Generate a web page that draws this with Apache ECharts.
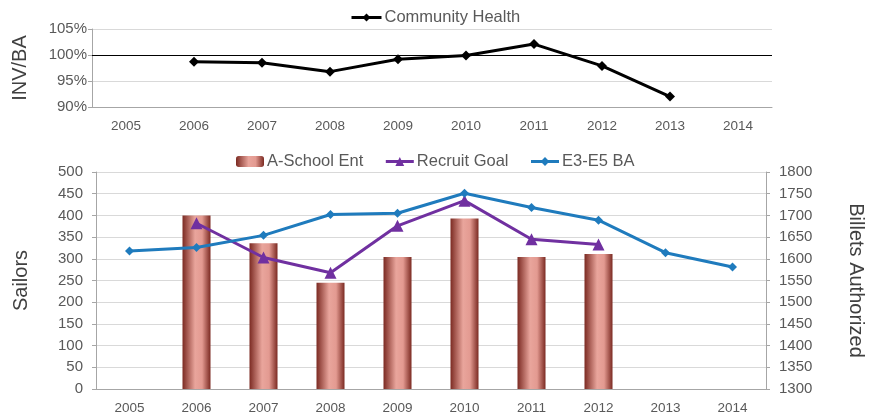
<!DOCTYPE html>
<html lang="en">
<head>
<meta charset="UTF-8" />
<title>Community Health</title>
<script type="text/javascript" src="https://cdn.jsdelivr.net/npm/echarts@6/dist/echarts.min.js"></script>
<style>
    html, body { margin: 0; padding: 0; background: #fff; }
    #main { width: 874px; height: 419px; }
</style>
</head>
<body>
<div id="main"></div>
<script type="text/javascript">
    // data
    var years = ['2005', '2006', '2007', '2008', '2009', '2010', '2011', '2012', '2013', '2014'];
    var healthPct = [null, 98.7, 98.5, 96.8, 99.2, 99.9, 102.1, 97.9, 92.0, null];
    var aSchoolEnt = [null, 400, 336, 245, 304, 393, 304, 311, null, null];
    var recruitGoal = [null, 382, 303, 268, 376, 434, 345, 333, null, null];
    var e3e5BA = [1618, 1626, 1654, 1702, 1705, 1751, 1718, 1689, 1614, 1581];

    var font = 'Liberation Sans, Arial, sans-serif';
    var gray = '#595959';
    var gridGray = '#d9d9d9';

    var myChart = echarts.init(document.getElementById('main'));

    var barColor = new echarts.graphic.LinearGradient(0, 0, 1, 0, [
        { offset: 0, color: '#7b2a22' },
        { offset: 0.45, color: '#e9a59c' },
        { offset: 0.7, color: '#e39a91' },
        { offset: 1, color: '#7b2a22' }
    ]);

    var xCommon = {
        type: 'category',
        data: years,
        axisLine: { lineStyle: { color: '#a6a6a6' } },
        axisTick: { alignWithLabel: false, length: 5, lineStyle: { color: '#a6a6a6' } },
        axisLabel: { color: gray, fontSize: 13.5, fontFamily: font, margin: 12 }
    };

    var legendText = { color: gray, fontSize: 16.5, fontFamily: font, padding: [0, 0, 0, -2] };

    var options = {
        animation: false,
        textStyle: { fontFamily: font },
        legend: [{
            data: ['Community Health'],
            left: 345, top: 4,
            itemWidth: 30, itemHeight: 10, itemGap: 20,
            lineStyle: { width: 3 },
            textStyle: legendText
        }, {
            data: ['A-School Ent', 'Recruit Goal', 'E3-E5 BA'],
            left: 231, top: 148,
            itemWidth: 28, itemHeight: 11, itemGap: 21,
            lineStyle: { width: 3 },
            textStyle: legendText
        }],
        grid: [
            { left: 92, right: 102, top: 29, height: 78 },
            { left: 96, right: 100, top: 172, height: 217 }
        ],
        xAxis: [
            Object.assign({ gridIndex: 0 }, xCommon),
            Object.assign({ gridIndex: 1 }, xCommon)
        ],
        yAxis: [{
            gridIndex: 0,
            type: 'value',
            min: 90, max: 105, interval: 5,
            name: 'INV/BA',
            nameLocation: 'middle', nameGap: 62,
            nameTextStyle: { color: '#404040', fontSize: 20, fontFamily: font },
            axisLine: { show: true, lineStyle: { color: '#a6a6a6' } },
            axisTick: { show: true, length: 4, lineStyle: { color: '#a6a6a6' } },
            axisLabel: { color: gray, fontSize: 15, fontFamily: font, margin: 5, formatter: '{value}%' },
            splitLine: { lineStyle: { color: gridGray } }
        }, {
            gridIndex: 1,
            type: 'value',
            min: 0, max: 500, interval: 50,
            name: 'Sailors',
            nameLocation: 'middle', nameGap: 65,
            nameTextStyle: { color: '#404040', fontSize: 20, fontFamily: font },
            axisLine: { show: true, lineStyle: { color: '#a6a6a6' } },
            axisTick: { show: true, length: 4, lineStyle: { color: '#a6a6a6' } },
            axisLabel: { color: gray, fontSize: 15, fontFamily: font, margin: 13 },
            splitLine: { lineStyle: { color: gridGray } }
        }, {
            gridIndex: 1,
            type: 'value',
            position: 'right',
            min: 1300, max: 1800, interval: 50,
            name: 'Billets Authorized',
            nameLocation: 'middle', nameGap: 80, nameRotate: -90,
            nameTextStyle: { color: '#404040', fontSize: 20, fontFamily: font },
            axisLine: { show: true, lineStyle: { color: '#a6a6a6' } },
            axisTick: { show: true, length: 4, lineStyle: { color: '#a6a6a6' } },
            axisLabel: { color: gray, fontSize: 15, fontFamily: font, margin: 13,
                formatter: function (v) { return String(v); } },
            splitLine: { show: false }
        }],
        series: [{
            name: 'Community Health',
            type: 'line',
            xAxisIndex: 0, yAxisIndex: 0,
            data: healthPct,
            symbol: 'diamond', symbolSize: 10,
            lineStyle: { color: '#000', width: 3 },
            itemStyle: { color: '#000' },
            markLine: {
                silent: true,
                symbol: 'none',
                label: { show: false },
                lineStyle: { color: '#000', width: 1, type: 'solid' },
                data: [{ yAxis: 100 }]
            }
        }, {
            name: 'A-School Ent',
            type: 'bar',
            xAxisIndex: 1, yAxisIndex: 1,
            data: aSchoolEnt,
            barWidth: 28,
            itemStyle: { color: barColor }
        }, {
            name: 'Recruit Goal',
            type: 'line',
            xAxisIndex: 1, yAxisIndex: 1,
            data: recruitGoal,
            symbol: 'triangle', symbolSize: 12,
            lineStyle: { color: '#7030a0', width: 3 },
            itemStyle: { color: '#7030a0' }
        }, {
            name: 'E3-E5 BA',
            type: 'line',
            xAxisIndex: 1, yAxisIndex: 2,
            data: e3e5BA,
            symbol: 'diamond', symbolSize: 9,
            lineStyle: { color: '#1f7bbd', width: 3 },
            itemStyle: { color: '#1f7bbd' }
        }]
    };

    myChart.setOption(options);
</script>
</body>
</html>
